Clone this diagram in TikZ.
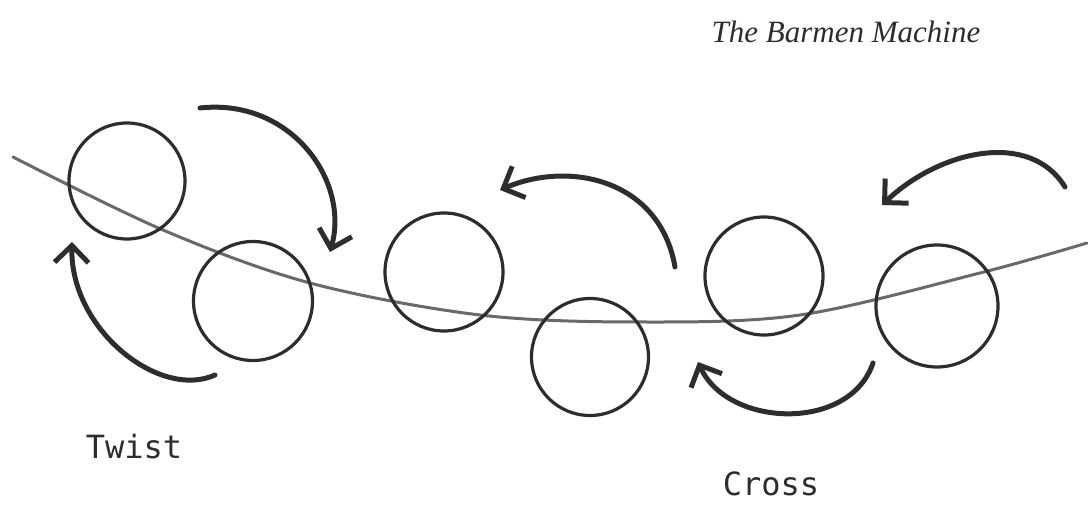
\documentclass[tikz,border=0pt]{standalone}
\usepackage{fontspec}
\usepackage{xcolor}
\usepackage{tikz}
\usetikzlibrary{arrows.meta}
\newfontfamily\titlefont{Liberation Serif}
\newfontfamily\labelfont{DejaVu Sans Mono}
\definecolor{inkgray}{RGB}{45,45,45}
\definecolor{ropegray}{RGB}{105,105,105}

\begin{document}
\begin{tikzpicture}[
  x=1pt,y=-1pt,
  wheel/.style={circle,draw=inkgray,line width=3.2pt,inner sep=0pt,minimum size=#1},
  wheel/.default=118pt,
  rope/.style={draw=ropegray,line width=3pt,line cap=round},
  turn/.style={draw=inkgray,line width=5pt,line cap=round,-{Straight Barb[length=17pt,width=34pt,line width=5pt]}},
  lbl/.style={text=inkgray,font=\labelfont\fontsize{32}{32}\selectfont}
]
\useasboundingbox (0,0) rectangle (1088,518);
% the rope
\draw[rope] plot[smooth,tension=0.55] coordinates {(13,157) (163,230) (310,283) (480,315) (640,322) (800,315) (980,273) (1087,243)};
% the six wheels
\node[wheel=116pt] (w1) at (127,181) {};
\node[wheel=119pt] (w2) at (253,301) {};
\node[wheel=118pt] (w3) at (444,272) {};
\node[wheel=117pt] (w4) at (590,357) {};
\node[wheel=118pt] (w5) at (764,276) {};
\node[wheel=122pt] (w6) at (937,306) {};
% turning arrows
\draw[turn] (200,108) .. controls (290,98) and (350,180) .. (330,252);
\draw[turn] (215,375) .. controls (160,400) and (70,330) .. (72,242);
\draw[turn] (675,267) .. controls (660,180) and (570,160) .. (500,190);
\draw[turn] (1065,187) .. controls (1030,130) and (940,150) .. (882,205);
\draw[turn] (873,363) .. controls (850,432) and (728,428) .. (698,362);
% texts
\node[text=inkgray,font=\titlefont\itshape\fontsize{31}{31}\selectfont] (title) at (846,32) {The Barmen Machine};
\node[lbl] (twist) at (134,447) {Twist};
\node[lbl] (cross) at (771,484) {Cross};
\end{tikzpicture}
\end{document}
